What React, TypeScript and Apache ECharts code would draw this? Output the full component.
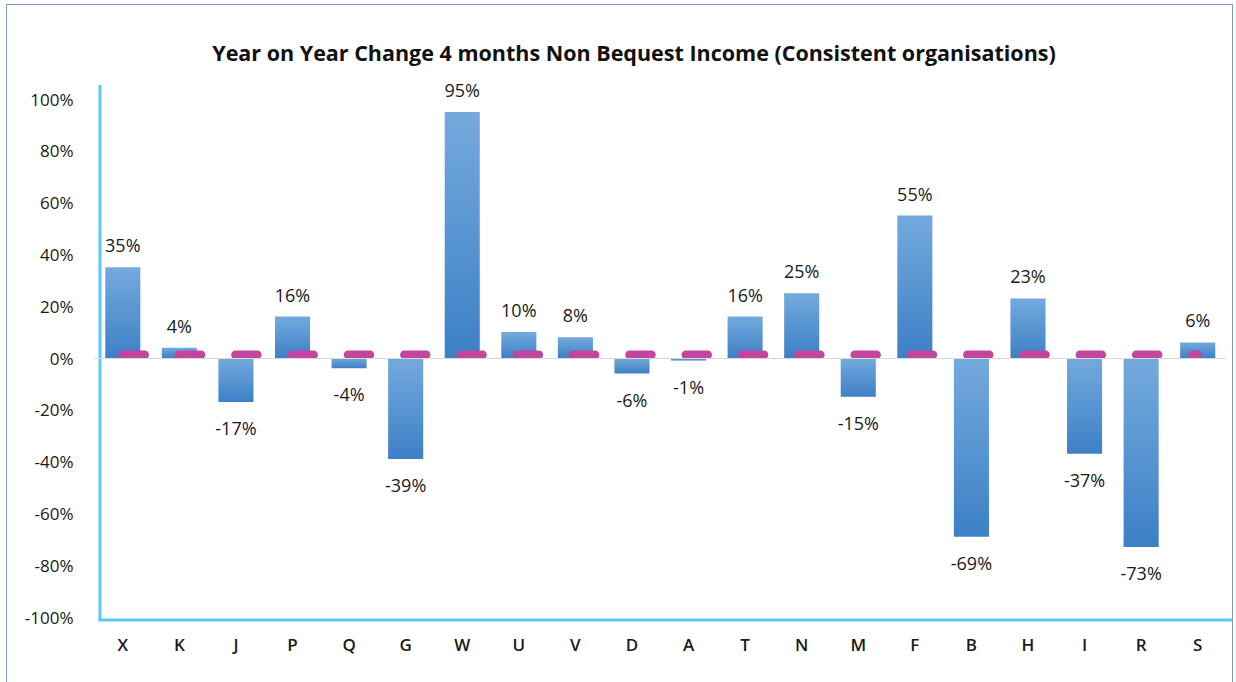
import React, { useEffect, useRef } from "react";
import * as echarts from "echarts";

const categories = ["X", "K", "J", "P", "Q", "G", "W", "U", "V", "D", "A", "T", "N", "M", "F", "B", "H", "I", "R", "S"];
const changeValues = [35, 4, -17, 16, -4, -39, 95, 10, 8, -6, -1, 16, 25, -15, 55, -69, 23, -37, -73, 6];
const averageValues = [1.3, 1.3, 1.3, 1.3, 1.3, 1.3, 1.3, 1.3, 1.3, 1.3, 1.3, 1.3, 1.3, 1.3, 1.3, 1.3, 1.3, 1.3, 1.3, 1.3];
const yTicks = { min: -100, max: 100, interval: 20 };

const FONT = "'Open Sans', 'Noto Sans', sans-serif";

export default function App() {
  const ref = useRef<HTMLDivElement>(null);

  useEffect(() => {
    if (!ref.current) return;
    const chart = echarts.init(ref.current, null, { renderer: "svg" });

    const barData = changeValues.map((v) => ({
      value: v,
      label: {
        position: v >= 0 ? "top" : "bottom",
        distance: v >= 0 ? 13 : 17,
      },
    }));

    chart.setOption({
      animation: false,
      backgroundColor: "#ffffff",
      title: {
        text: "Year on Year Change 4 months Non Bequest Income (Consistent organisations)",
        left: 629,
        textAlign: "center",
        top: 36,
        textStyle: { fontFamily: FONT, fontWeight: "bold", fontSize: 21.5, color: "#111" },
      },
      grid: { left: 94.5, right: 10, top: 99, bottom: 65 },
      xAxis: {
        type: "category",
        data: categories,
        position: "bottom",
        axisLine: { show: false, onZero: false },
        axisTick: { show: false },
        axisLabel: { fontFamily: FONT, fontSize: 17, fontWeight: 600, color: "#1a1a1a", margin: 19 },
      },
      yAxis: {
        type: "value",
        min: yTicks.min,
        max: yTicks.max,
        interval: yTicks.interval,
        axisLine: { show: false },
        axisTick: { show: false },
        splitLine: { show: false },
        axisLabel: {
          fontFamily: FONT,
          fontSize: 17,
          color: "#1a1a1a",
          margin: 21,
          formatter: (v: number) => `${v}%`,
        },
      },
      series: [
        {
          type: "bar",
          data: barData,
          barWidth: "62%",
          itemStyle: {
            color: new echarts.graphic.LinearGradient(0, 0, 0, 1, [
              { offset: 0, color: "#74aadd" },
              { offset: 1, color: "#3d80c6" },
            ]),
          },
          label: {
            show: true,
            fontFamily: FONT,
            fontSize: 18,
            color: "#1a1a1a",
            formatter: (p: any) => `${p.value}%`,
          },
          markLine: {
            silent: true,
            symbol: "none",
            label: { show: false },
            lineStyle: { color: "#d9d9d9", width: 1, type: "solid" },
            data: [{ yAxis: 0 }],
          },
        },
        {
          type: "line",
          data: averageValues,
          symbol: "none",
          lineStyle: { color: "#c2459e", width: 8.5, cap: "round", type: [22, 34.3] },
          z: 3,
        },
      ],
      graphic: [
        {
          type: "rect",
          shape: { x: 6.5, y: 4.5, width: 1226, height: 700 },
          style: { fill: "none", stroke: "#7f97d0", lineWidth: 1 },
          silent: true,
        },
        {
          type: "line",
          shape: { x1: 100, y1: 85, x2: 100, y2: 621 },
          style: { stroke: "#5bc8f5", lineWidth: 3 },
          silent: true,
        },
        {
          type: "line",
          shape: { x1: 98.5, y1: 620, x2: 1232, y2: 620 },
          style: { stroke: "#5bc8f5", lineWidth: 3 },
          silent: true,
        },
      ],
    });

    return () => chart.dispose();
  }, []);

  return (
    <div
      ref={ref}
      style={{ position: "fixed", left: 0, top: 0, width: 1236, height: 682 }}
    />
  );
}
